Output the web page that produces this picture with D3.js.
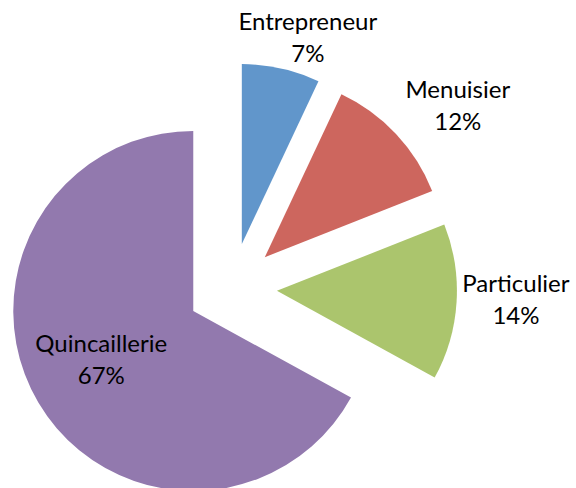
<!DOCTYPE html>
<html>
<head>
<meta charset="utf-8">
<script src="https://cdn.jsdelivr.net/npm/d3@7"></script>
<style>
  html, body { margin: 0; padding: 0; background: #fff; }
  svg { display: block; }
  .pie-label { font-family: Lato, "Open Sans", sans-serif; font-size: 24px; fill: #000; }
</style>
</head>
<body>
<div id="chart"></div>
<script>
// data
var categories = ["Entrepreneur", "Menuisier", "Particulier", "Quincaillerie"];
var values     = [7, 12, 14, 67];
var colors     = ["#6196cb", "#cd665e", "#abc56d", "#9279ae"];

var width = 576, height = 488;
var cx = 232, cy = 288,   // common pie centre
    r = 180,              // radius
    explode = 45;         // how far every slice is pulled out

// label offset from the slice's own centre (first baseline)
var labelOffset = {
  "Entrepreneur":  [66, -214],
  "Menuisier":     [193, -159],
  "Particulier":   [239, 1],
  "Quincaillerie": [-92, 41]
};
var lineGap = 32;

var svg = d3.select("#chart").append("svg")
    .attr("width", width).attr("height", height);

var pie = d3.pie().sort(null).value(function(d) { return d.v; });
var arc = d3.arc().innerRadius(0).outerRadius(r);

var data = categories.map(function(k, i) { return { k: k, v: values[i], c: colors[i] }; });
var total = d3.sum(values);

var slices = svg.selectAll(".slice").data(pie(data)).enter()
    .append("g")
    .attr("class", "slice")
    .attr("transform", function(d) {
        var p = d3.pointRadial((d.startAngle + d.endAngle) / 2, explode);
        d.cx = cx + p[0]; d.cy = cy + p[1];
        return "translate(" + d.cx + "," + d.cy + ")";
    });

slices.append("path")
    .attr("d", arc)
    .attr("fill", function(d) { return d.data.c; });

// labels on top of everything
svg.selectAll(".pie-label").data(pie(data)).enter()
    .append("text")
    .attr("class", "pie-label")
    .attr("text-anchor", "middle")
    .attr("transform", function(d) {
        var p = d3.pointRadial((d.startAngle + d.endAngle) / 2, explode);
        var o = labelOffset[d.data.k];
        return "translate(" + (cx + p[0] + o[0]) + "," + (cy + p[1] + o[1]) + ")";
    })
    .each(function(d) {
        var t = d3.select(this);
        t.append("tspan").attr("x", 0).attr("y", 0).text(d.data.k);
        t.append("tspan").attr("x", 0).attr("y", lineGap)
            .text(Math.round(d.data.v / total * 100) + "%");
    });
</script>
</body>
</html>
